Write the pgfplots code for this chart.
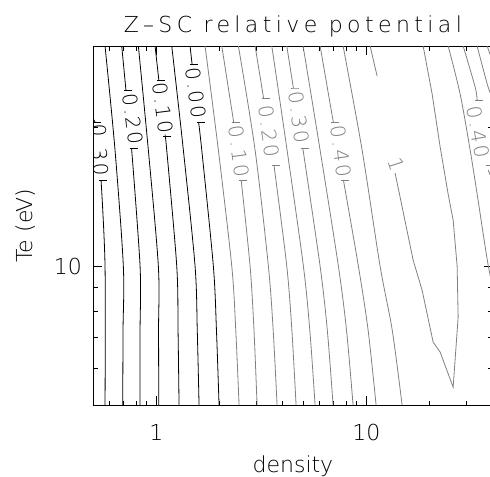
\documentclass[border=0pt]{standalone}
\usepackage{fontspec}
\setmainfont{DejaVuSans-ExtraLight}[Extension=.ttf]
\newfontfamily\labfont{DejaVuSans-ExtraLight}[Extension=.ttf,LetterSpace=12]
\newfontfamily\titlefont{DejaVuSans-ExtraLight}[Extension=.ttf,LetterSpace=20]
\usepackage{pgfplots}
\pgfplotsset{compat=1.18}
\definecolor{neg}{gray}{0.5}
\begin{document}
\begin{tikzpicture}[
  cb/.style={black, line width=0.8pt, smooth},
  cg/.style={neg, line width=0.8pt, smooth},
  lab/.style={font=\labfont\fontsize{20}{20}\selectfont, inner sep=0pt},
]
\begin{axis}[
  scale only axis, width=399.6pt, height=359pt,
  xmode=log, ymode=log, xmin=0.5, xmax=40, ymin=5, ymax=30,
  xtick={1,10}, xticklabels={1,10},
  minor xtick={0.6,0.7,0.8,0.9,2,3,4,5,6,7,8,9,20,30},
  ytick={10}, yticklabels={10},
  minor ytick={6,7,8,9,20},
  tick align=inside,
  major tick length=9pt, minor tick length=4.5pt,
  every tick/.style={black, line width=0.6pt},
  axis line style={line width=0.7pt},
  ticklabel style={font=\fontsize{22}{24}\selectfont},
  /pgf/number format/assume math mode=true,
  xticklabel style={anchor=base, yshift=-35pt},
  yticklabel style={anchor=east, inner sep=0pt, xshift=-11pt},
  every axis title/.style={at={(axis description cs:0.5,1.039)}, anchor=base, font=\titlefont\fontsize{22}{24}\selectfont},
  every axis x label/.style={at={(axis description cs:0.5,-0.1866)}, anchor=base, font=\fontsize{22}{24}\selectfont},
  every axis y label/.style={at={(axis description cs:-0.1502,0.5)}, rotate=90, anchor=base, font=\fontsize{22}{24}\selectfont},
  title={Z\textendash SC relative potential},
  xlabel={density}, ylabel={Te (eV)},
]
% ---- positive levels (black)
\addplot[cb] coordinates {(0.48,21.6)(0.5111,20.53)};
\addplot[cb] coordinates {(0.5,20.53)(0.5458,20.53)};
\addplot[cb] coordinates {(0.5459,15.37)(0.5703,10)(0.5703,5)};
\addplot[cb] coordinates {(0.5341,15.37)(0.5830,15.37)};
\addplot[cb] coordinates {(0.5703,30)(0.6363,17.85)(0.6970,10)(0.6947,7.268)(0.6923,5)};
\addplot[cb] coordinates {(0.6848,30)(0.7172,24.09)};
\addplot[cb] coordinates {(0.7016,24.09)(0.7660,24.09)};
\addplot[cb] coordinates {(0.7627,18.03)(0.8373,10)(0.8373,7.268)(0.8373,5)};
\addplot[cb] coordinates {(0.7462,18.03)(0.8146,18.03)};
\addplot[cb] coordinates {(0.8218,30)(0.9168,17.85)(1.0231,10)(1.0253,7.268)(1.0276,5)};
\addplot[cb] coordinates {(0.9868,30)(1.0287,25.31)};
\addplot[cb] coordinates {(1.0064,25.31)(1.0987,25.31)};
\addplot[cb] coordinates {(1.1022,19.14)(1.1217,17.85)(1.2517,10)(1.2696,7.268)(1.2836,5)};
\addplot[cb] coordinates {(1.0783,19.14)(1.1771,19.14)};
\addplot[cb] coordinates {(1.1849,30)(1.3458,17.85)(1.5300,10)(1.5673,7.268)(1.5986,5)};
\addplot[cb] coordinates {(1.4484,30)(1.4805,27.42)};
\addplot[cb] coordinates {(1.4484,27.42)(1.5812,27.42)};
\addplot[cb] coordinates {(1.5899,20.53)(1.6467,17.85)(1.8698,10)(1.9345,7.268)(1.9905,5)};
\addplot[cb] coordinates {(1.5554,20.53)(1.6980,20.53)};
% ---- negative levels (gray)
\addplot[cg] coordinates {(1.7073,30)(1.9752,17.85)(2.2878,10)(2.3904,7.268)(2.4785,5)};
\addplot[cg] coordinates {(2.0504,30)(2.3360,20.53)};
\addplot[cg] coordinates {(2.5362,15.37)(2.7966,10)(2.9189,7.268)(3.0198,5)};
\addplot[cg] coordinates {(2.2853,20.53)(2.4948,20.53)};
\addplot[cg] coordinates {(2.4812,15.37)(2.7087,15.37)};
\addplot[cg] coordinates {(2.4596,30)(2.9543,17.85)(3.4176,10)(3.6022,7.268)(3.7596,5)};
\addplot[cg] coordinates {(2.9543,30)(3.2421,23.14)};
\addplot[cg] coordinates {(3.6339,16.56)(4.1811,10)(4.4214,7.268)(4.6298,5)};
\addplot[cg] coordinates {(3.1718,23.14)(3.4626,23.14)};
\addplot[cg] coordinates {(3.5551,16.56)(3.8810,16.56)};
\addplot[cg] coordinates {(3.5473,30)(4.1948,17.85)(5.0165,10)(5.3816,7.268)(5.7036,5)};
\addplot[cg] coordinates {(4.1811,30)(4.4948,24.33)};
\addplot[cg] coordinates {(4.9836,18.03)(6.0246,10)(6.5200,7.268)(6.9474,5)};
\addplot[cg] coordinates {(4.3973,24.33)(4.8004,24.33)};
\addplot[cg] coordinates {(4.8755,18.03)(5.3225,18.03)};
\addplot[cg] coordinates {(5.0000,30)(6.0246,17.85)(7.3635,10)(8.0475,7.268)(8.6489,5)};
\addplot[cg] coordinates {(6.0246,30)(6.9625,20.53)};
\addplot[cg] coordinates {(7.7787,15.37)(9.1671,10)(10.197,7.268)(11.131,5)};
\addplot[cg] coordinates {(6.8114,20.53)(7.4360,20.53)};
\addplot[cg] coordinates {(7.6099,15.37)(8.3077,15.37)};
\addplot[cg] coordinates {(7.7531,30)(9.5475,17.85)(11.630,10)(13.284,7.268)(14.805,5)};
\addplot[cg] coordinates {(10.423,30)(11.254,25.82)};
\addplot[neg, line width=0.8pt] coordinates {(13.713,15.91)(16.705,10.31)(18.434,8.874)(20.800,6.847)(22.463,6.514)(25.901,5.469)(27.357,7.756)(27.058,10.0)(25.901,12.59)(24.520,14.33)(22.463,18.12)(20.573,23.61)(18.638,30)};
\addplot[cg] coordinates {(24.520,30)(27.963,23.61)(31.205,17.85)(33.69,14.33)(38.01,10.06)(41,8.6)};
\addplot[cg] coordinates {(28.898,30)(32.96,24.45)(33.69,22.91)};
\addplot[cg] coordinates {(38.01,16.16)(41,14.9)};
\addplot[cg] coordinates {(32.96,22.91)(35.98,22.91)};
\addplot[cg] coordinates {(37.19,16.56)(40,16.56)};
\addplot[cg] coordinates {(33.69,30)(38.01,24.45)(41,22.5)};
\addplot[cg] coordinates {(37.60,30)(41,26.8)};
% ---- contour labels
\node[lab, rotate=-87] at (axis cs:0.5399,17.85) {0.30};
\node[lab, rotate=-83] at (axis cs:0.7750,20.84) {0.20};
\node[lab, rotate=-83] at (axis cs:1.0772,22.02) {0.10};
\node[lab, rotate=-83] at (axis cs:1.5468,23.73) {0.00};
\node[lab, rotate=-82, text=neg] at (axis cs:2.4785,17.76) {0.10};
\node[lab, rotate=-82, text=neg] at (axis cs:3.4438,19.62) {0.20};
\node[lab, rotate=-82, text=neg] at (axis cs:4.7855,21.05) {0.30};
\node[lab, rotate=-82, text=neg] at (axis cs:7.585,17.76) {0.40};
\node[lab, rotate=-80, text=neg] at (axis cs:34.06,19.52) {0.40};
\node[lab, rotate=-72, text=neg] at (axis cs:13.864,16.65) {1};
\end{axis}
\pgfresetboundingbox
\path[use as bounding box] ([xshift=-93pt,yshift=-71pt]current axis.south west) rectangle ([xshift=-2.8pt,yshift=46pt]current axis.north east);
\end{tikzpicture}
\end{document}
